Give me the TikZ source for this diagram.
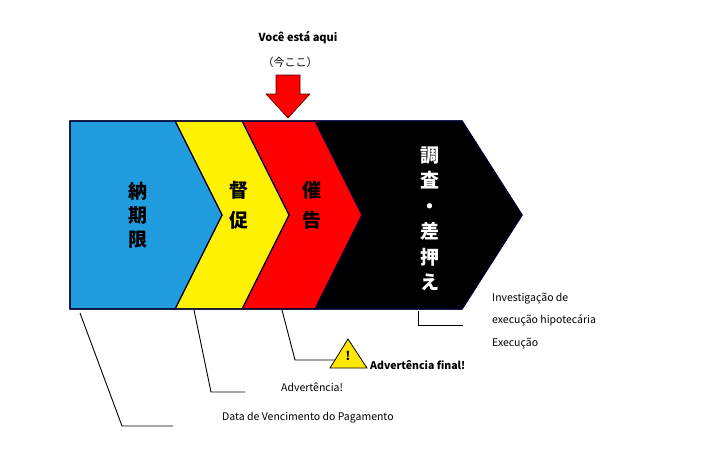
\documentclass[tikz,border=0pt]{standalone}
\usepackage{fontspec}
\setmainfont{Noto Sans CJK JP}
\newfontfamily\jpb{Noto Sans CJK JP}[BoldFont={* Bold}]
\begin{document}
\begin{tikzpicture}[x=1pt,y=-1pt,
  seg/.style={draw=black!80!blue,line width=1.2pt},
  lead/.style={draw=black,line width=0.9pt},
  lbl/.style={font=\fontsize{10.5}{13}\selectfont,anchor=west,inner sep=0},
  kj/.style={font=\fontsize{19}{24}\selectfont\bfseries,align=center,inner sep=0}]
\useasboundingbox (0,0) rectangle (721,451);
\fill[seg,fill=black] (315,121) -- (462,121) -- (522,215) -- (462,309) -- (315,309) -- (362,215) -- cycle;
\fill[seg,fill=red] (242,121) -- (315,121) -- (362,215) -- (315,309) -- (242,309) -- (289,215) -- cycle;
\fill[seg,fill=yellow] (175,121) -- (242,121) -- (289,215) -- (242,309) -- (175,309) -- (222,215) -- cycle;
\fill[seg,fill=cyan!80!blue!90] (70,121) -- (175,121) -- (222,215) -- (175,309) -- (70,309) -- cycle;
\draw[seg] (70,121) -- (462,121) -- (522,215) -- (462,309) -- (70,309) -- cycle;
\node[kj] (k1) at (138,215) {納\\期\\限};
\node[kj] (k2) at (239,205) {督\\[6pt]促};
\node[kj] (k3) at (312,205) {催\\[6pt]告};
\node[kj,text=white,font=\fontsize{19}{25.5}\selectfont\bfseries] (k4) at (430,219) {調\\査\\・\\差\\押\\え};
% top
\node[font=\fontsize{11}{13}\selectfont\bfseries,inner sep=0] (here) at (298,37) {Você está aqui};
\node[font=\fontsize{11}{13}\selectfont,inner sep=0] (ima) at (290,62) {（今ここ）};
\fill[red,draw=black!70!red,line width=0.6pt] (276,75) -- (300,75) -- (300,94) -- (310,94) -- (288,118) -- (266,94) -- (276,94) -- cycle;
% leaders
\coordinate (a1) at (80,313); \coordinate (a2) at (122,426); \coordinate (a3) at (173,426);
\draw[lead] (a1) -- (a2) -- (a3);
\node[lbl] (t1) at (222,418) {Data de Vencimento do Pagamento};
\coordinate (b1) at (194,310); \coordinate (b2) at (211,392); \coordinate (b3) at (245,392);
\draw[lead] (b1) -- (b2) -- (b3);
\node[lbl] (t2) at (281,387) {Advertência!};
\coordinate (c1) at (282,310); \coordinate (c2) at (295,360); \coordinate (c3) at (335,360);
\draw[lead] (c1) -- (c2) -- (c3);
\fill[yellow!90!orange,draw=black,line width=0.8pt] (348,339) -- (367,368) -- (330,368) -- cycle;
\node[font=\fontsize{12}{12}\selectfont\bfseries,inner sep=0] (ex) at (348,356) {!};
\node[lbl,font=\fontsize{10.5}{13}\selectfont\bfseries] (t3) at (370,365) {Advertência final!};
\coordinate (d1) at (418,311); \coordinate (d2) at (418,325); \coordinate (d3) at (463,325);
\draw[lead] (d1) -- (d2) -- (d3);
\node[lbl,align=left,font=\fontsize{10.5}{22.5}\selectfont] (t4) at (492,321) {Investigação de\\execução hipotecária\\Execução};
\end{tikzpicture}
\end{document}
